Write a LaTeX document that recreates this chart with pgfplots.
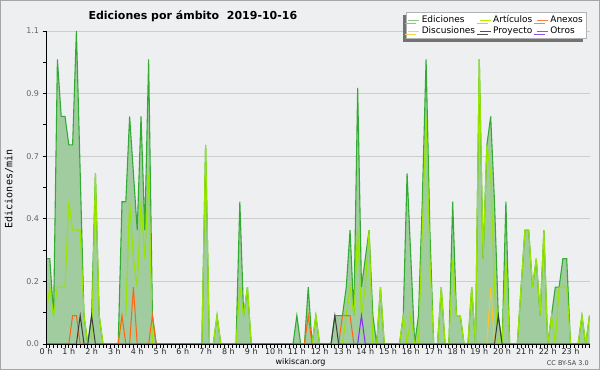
\documentclass[border=0pt]{standalone}
\usepackage{pgfplots}
\pgfplotsset{compat=1.18}
\usepackage{pgfplotstable}
\usepackage{fontspec}
\setmainfont{DejaVu Sans}
\newfontfamily\monofont{DejaVu Sans Mono}
\usetikzlibrary{shadows}
\definecolor{bg}{RGB}{238,239,240}
\definecolor{edline}{RGB}{51,170,51}
\definecolor{edfill}{RGB}{160,204,160}
\definecolor{art}{RGB}{150,230,0}
\definecolor{anx}{RGB}{255,100,20}
\definecolor{dis}{RGB}{250,200,30}
\definecolor{pro}{RGB}{60,60,60}
\definecolor{otr}{RGB}{130,50,230}
\definecolor{gridc}{RGB}{205,205,205}
\pgfplotstableread{
i ed art anx dis pro otr
0 0.3 0.1 0 0 0 0
1 0.3 0.2 0 0 0 0
2 0.1 0.1 0 0 0 0
3 1.0 0.2 0 0 0 0
4 0.8 0.2 0 0 0 0
5 0.8 0.2 0 0 0 0
6 0.7 0.5 0 0 0 0
7 0.7 0.4 0.1 0 0 0
8 1.1 0.4 0.1 0 0 0
9 0.6 0.4 0 0 0.1 0
10 0.1 0.1 0 0 0 0
11 0 0 0 0 0 0
12 0.1 0 0 0 0.1 0
13 0.6 0.6 0 0 0 0
14 0.1 0.1 0 0 0 0
15 0 0 0 0 0 0
16 0 0 0 0 0 0
17 0 0 0 0 0 0
18 0 0 0 0 0 0
19 0 0 0 0 0 0
20 0.5 0.1 0.1 0 0 0
21 0.5 0.1 0 0 0 0
22 0.8 0.5 0 0 0 0
23 0.6 0.3 0.2 0 0 0
24 0.4 0.2 0 0 0 0
25 0.8 0.5 0 0 0 0
26 0.4 0.3 0 0 0 0
27 1.0 0.6 0 0 0 0
28 0.1 0 0.1 0 0 0
29 0 0 0 0 0 0
30 0 0 0 0 0 0
31 0 0 0 0 0 0
32 0 0 0 0 0 0
33 0 0 0 0 0 0
34 0 0 0 0 0 0
35 0 0 0 0 0 0
36 0 0 0 0 0 0
37 0 0 0 0 0 0
38 0 0 0 0 0 0
39 0 0 0 0 0 0
40 0 0 0 0 0 0
41 0 0 0 0 0 0
42 0.7 0.7 0 0 0 0
43 0 0 0 0 0 0
44 0 0 0 0 0 0
45 0.1 0.1 0 0 0 0
46 0 0 0 0 0 0
47 0 0 0 0 0 0
48 0 0 0 0 0 0
49 0 0 0 0 0 0
50 0 0 0 0 0 0
51 0.5 0.2 0 0 0 0
52 0.1 0.1 0 0 0 0
53 0.2 0.2 0 0 0 0
54 0 0 0 0 0 0
55 0 0 0 0 0 0
56 0 0 0 0 0 0
57 0 0 0 0 0 0
58 0 0 0 0 0 0
59 0 0 0 0 0 0
60 0 0 0 0 0 0
61 0 0 0 0 0 0
62 0 0 0 0 0 0
63 0 0 0 0 0 0
64 0 0 0 0 0 0
65 0 0 0 0 0 0
66 0.1 0 0 0 0 0
67 0 0 0 0 0 0
68 0 0 0 0 0 0
69 0.2 0 0.1 0 0 0
70 0 0 0 0 0 0
71 0.1 0.1 0 0 0 0
72 0 0 0 0 0 0
73 0 0 0 0 0 0
74 0 0 0 0 0 0
75 0 0 0 0 0 0
76 0.1 0 0 0 0.1 0
77 0.1 0 0 0 0 0
78 0.1 0 0.1 0 0 0
79 0.2 0.1 0.1 0 0 0
80 0.4 0.2 0.1 0 0 0
81 0.1 0.1 0 0 0 0
82 0.9 0.4 0 0 0 0
83 0.2 0.1 0 0 0 0.1
84 0.3 0.2 0 0 0 0
85 0.4 0.4 0 0 0 0
86 0.1 0 0 0 0 0
87 0 0 0 0 0 0
88 0.2 0.2 0 0 0 0
89 0 0 0 0 0 0
90 0 0 0 0 0 0
91 0 0 0 0 0 0
92 0 0 0 0 0 0
93 0 0 0 0 0 0
94 0.1 0.1 0 0 0 0
95 0.6 0 0 0 0 0
96 0.3 0.1 0 0 0 0
97 0 0 0 0 0 0
98 0.1 0 0 0 0 0
99 0.5 0.4 0 0 0 0
100 1.0 0.8 0 0 0 0
101 0.4 0.3 0 0 0 0
102 0 0 0 0 0 0
103 0 0 0 0 0 0
104 0.2 0.2 0 0 0 0
105 0 0 0 0 0 0
106 0 0 0 0 0 0
107 0.5 0.3 0 0 0 0
108 0.1 0.1 0 0 0 0
109 0.1 0.1 0 0 0 0
110 0 0 0 0 0 0
111 0 0 0 0 0 0
112 0.2 0.2 0 0 0 0
113 0 0 0 0 0 0
114 1.0 1.0 0 0 0 0
115 0.3 0.3 0 0 0 0
116 0.7 0.7 0 0 0 0
117 0.8 0.6 0 0.2 0 0
118 0.5 0.2 0 0 0 0
119 0.1 0 0 0 0.1 0
120 0 0 0 0 0 0
121 0.5 0.3 0 0 0 0
122 0 0 0 0 0 0
123 0 0 0 0 0 0
124 0 0 0 0 0 0
125 0.2 0.2 0 0 0 0
126 0.4 0.4 0 0 0 0
127 0.4 0.4 0 0 0 0
128 0.2 0.2 0 0 0 0
129 0.3 0.3 0 0 0 0
130 0.1 0.1 0 0 0 0
131 0.4 0.4 0 0 0 0
132 0 0 0 0 0 0
133 0.1 0.1 0 0 0 0
134 0.2 0 0 0 0 0
135 0.2 0.2 0 0 0 0
136 0.3 0.2 0 0 0 0
137 0.3 0.2 0 0 0 0
138 0 0 0 0 0 0
139 0 0 0 0 0 0
140 0 0 0 0 0 0
141 0.1 0.1 0 0 0 0
142 0 0 0 0 0 0
143 0.1 0.1 0 0 0 0
}\data
\begin{document}
\begin{tikzpicture}[x=1bp,y=1bp]
\fill[bg] (0,0) rectangle (600,370);
\draw[gray!70, line width=1bp] (0.5,0.5) rectangle (599.5,369.5);
\begin{axis}[name=ax,
  at={(46bp,26bp)}, anchor=south west, scale only axis,
  width=543.5bp, height=313bp,
  xmin=0, xmax=143, ymin=0, ymax=1.1,
  axis lines=left, axis line style={-, black, line width=1bp},
  xtick={0,6,...,138},
  xticklabels={0 h,1 h,2 h,3 h,4 h,5 h,6 h,7 h,8 h,9 h,10 h,11 h,12 h,13 h,14 h,15 h,16 h,17 h,18 h,19 h,20 h,21 h,22 h,23 h},
  minor xtick={0,...,143},
  ytick={0,0.22,0.44,0.66,0.88,1.1},
  yticklabels={0.0,0.2,0.4,0.7,0.9,1.1},
  minor ytick={0.11,0.33,0.55,0.77,0.99},
  tick align=outside,
  major tick length=3.5bp, minor tick length=3.5bp,
  tick style={black, line width=0.8bp},
  xticklabel style={font=\fontsize{8bp}{9bp}\selectfont, text=black!85, yshift=3bp},
  yticklabel style={font=\fontsize{8bp}{9bp}\selectfont, text=black!60},
  ymajorgrids, grid style={draw=gridc, line width=0.9bp},
  legend columns=3,
  legend cell align=left,
  legend image code/.code={\draw[#1, line width=1bp] (0bp,0bp) -- (11bp,0bp);},
  legend style={at={(0.6625,1.0607)}, anchor=north west,
    font=\fontsize{9bp}{9bp}\selectfont,
    draw=gray!60, fill=white, inner sep=1.5bp, row sep=-1.5bp,
    /tikz/every even column/.append style={column sep=2bp},
    drop shadow={shadow xshift=-3bp, shadow yshift=-3bp, fill=black!55, opacity=1}},
]
\addplot[draw=none, fill=edfill, forget plot] table[x=i,y=ed]{\data} \closedcycle;
\addplot[edline, line width=1.1bp, forget plot] table[x=i,y=ed]{\data};
\addplot[art, line width=1.1bp, forget plot] table[x=i,y=art]{\data};
\addplot[anx, line width=1bp, forget plot] table[x=i,y=anx]{\data};
\addplot[dis, line width=1bp, forget plot] table[x=i,y=dis]{\data};
\addplot[pro, line width=1bp, forget plot] table[x=i,y=pro]{\data};
\addplot[otr, line width=1bp, forget plot] table[x=i,y=otr]{\data};
\addlegendimage{color=edline!60}
\addlegendentry{Ediciones}
\addlegendimage{color=art!70!yellow}
\addlegendentry{Artículos}
\addlegendimage{color=anx!80}
\addlegendentry{Anexos}
\addlegendimage{color=dis!80}
\addlegendentry{Discusiones}
\addlegendimage{color=pro!90}
\addlegendentry{Proyecto}
\addlegendimage{color=otr!85}
\addlegendentry{Otros}
\end{axis}
\draw[black, line width=1bp] (ax.north west) -- (ax.south west) -- (ax.south east);
\node[font=\bfseries\fontsize{11bp}{12bp}\selectfont, anchor=base west] at (85,351) {Ediciones por ámbito\ \ 2019-10-16};
\node[rotate=90, font=\monofont\fontsize{10bp}{10bp}\selectfont] at (9,181) {Ediciones/min};
\node[font=\fontsize{8bp}{9bp}\selectfont, anchor=base, inner sep=0] at (300.5,5.5) {wikiscan.org};
\node[font=\fontsize{6.5bp}{7bp}\selectfont, anchor=base east, text=black!75, inner sep=0] at (589,5) {CC BY-SA 3.0};
\pgfresetboundingbox
\path[use as bounding box] (0,0) rectangle (600,370);
\end{tikzpicture}
\end{document}
